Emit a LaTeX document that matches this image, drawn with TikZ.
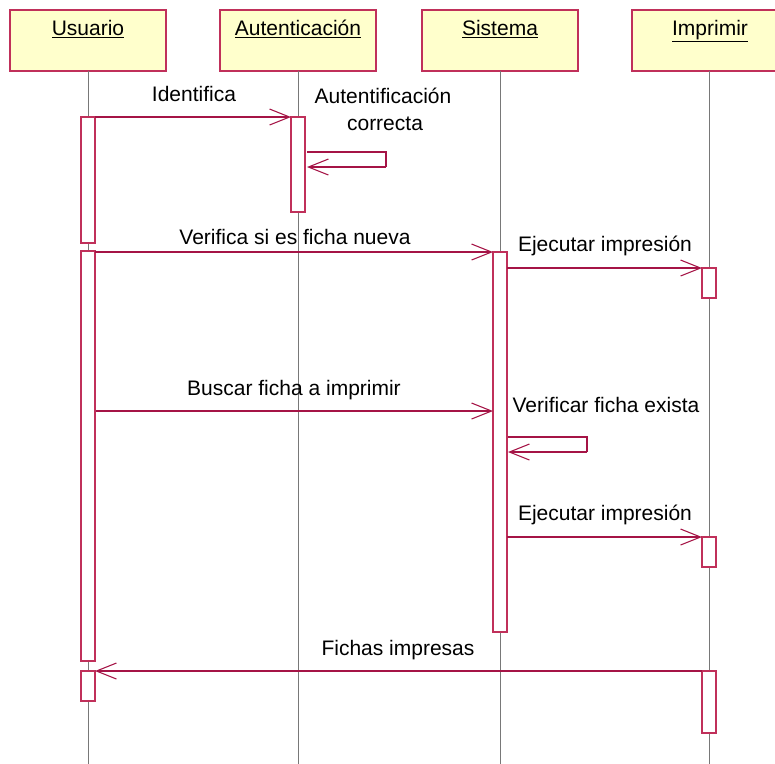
\documentclass[tikz,border=0pt]{standalone}
\usepackage{fontspec}
\setmainfont{Liberation Sans}
\usetikzlibrary{arrows.meta}
\definecolor{umlred}{RGB}{165,20,70}
\definecolor{umlbox}{RGB}{192,48,90}
\definecolor{umlfill}{RGB}{255,255,204}
\definecolor{lifegray}{RGB}{120,120,120}
\begin{document}
\begin{tikzpicture}[x=0.75pt,y=-0.75pt,
  every node/.style={font=\fontsize{15.75pt}{19pt}\selectfont},
  hdr/.style={draw=umlbox,fill=umlfill,line width=0.9pt,minimum width=117pt,minimum height=45.75pt,inner sep=0pt,outer sep=0pt},
  htext/.style={anchor=base,inner sep=0pt},
  actbox/.style={draw=umlbox,fill=white,line width=0.9pt,minimum width=10.5pt,inner sep=0pt,outer sep=0pt},
  life/.style={draw=lifegray,line width=0.5pt},
  msg/.style={draw=umlred,line width=0.8pt,-{Straight Barb[length=15pt,width=12pt,line width=0.8pt]}},
  selfline/.style={draw=umlred,line width=0.8pt},
  lbl/.style={anchor=base,inner sep=0pt,align=center}]
\useasboundingbox (0,0) rectangle (775,764);
% headers
\node[hdr] (hu) at (88,40.5) {};
\node[hdr] (ha) at (298,40.5) {};
\node[hdr] (hs) at (500,40.5) {};
\node[hdr] (hi) at (710,40.5) {};
\node[htext] (tu) at (88,35) {\underline{Usuario}};
\node[htext] (ta) at (298,35) {\underline{Autenticación}};
\node[htext] (ts) at (500,35) {\underline{Sistema}};
\node[htext] (ti) at (710,35) {\underline{Imprimir}};
% lifelines
\coordinate (eu) at (88,764);
\coordinate (ea) at (298,764);
\coordinate (es) at (500,764);
\coordinate (ei) at (709,764);
\draw[life] (88,71) -- (eu);
\draw[life] (298,71) -- (ea);
\draw[life] (500,71) -- (es);
\draw[life] (709,71) -- (ei);
% activations
\node[actbox,minimum height=94.5pt] (u1) at (88,180) {};
\node[actbox,minimum height=307.5pt] (u2) at (88,456) {};
\node[actbox,minimum height=22.5pt] (u3) at (88,686) {};
\node[actbox,minimum height=71.25pt] (a1) at (298,164.5) {};
\node[actbox,minimum height=285pt] (s1) at (500,442) {};
\node[actbox,minimum height=22.5pt] (i1) at (709,283) {};
\node[actbox,minimum height=22.5pt] (i2) at (709,552) {};
\node[actbox,minimum height=46.5pt] (i3) at (709,702) {};
% messages
\draw[msg] (u1.north east) -- (a1.north west);
\node[lbl] (l1) at (194,101) {Identifica};
\coordinate (c1a) at (307,152);
\coordinate (c1b) at (386,152);
\coordinate (c1c) at (386,167);
\coordinate (c1d) at (307,167);
\draw[selfline] (c1a) -- (c1b) -- (c1c);
\draw[msg] (c1c) -- (c1d);
\node[lbl] (l2) at (383,103) {Autentificación};
\node[lbl] (l2b) at (385,130) {correcta};
\draw[msg] (u2.east |- s1.north) -- (s1.north west);
\node[lbl] (l3) at (295,244) {Verifica si es ficha nueva};
\draw[msg] (s1.east |- i1.north) -- (i1.north west);
\node[lbl] (l4) at (605,251) {Ejecutar impresión};
\coordinate (b1) at (96,411);
\coordinate (b2) at (493,411);
\draw[msg] (b1) -- (b2);
\node[lbl] (l5) at (294,395) {Buscar ficha a imprimir};
\coordinate (c2a) at (508,437);
\coordinate (c2b) at (587,437);
\coordinate (c2c) at (587,452);
\coordinate (c2d) at (508,452);
\draw[selfline] (c2a) -- (c2b) -- (c2c);
\draw[msg] (c2c) -- (c2d);
\node[lbl] (l6) at (606,412) {Verificar ficha exista};
\draw[msg] (s1.east |- i2.north) -- (i2.north west);
\node[lbl] (l7) at (605,520) {Ejecutar impresión};
\draw[msg] (i3.north west) -- (u3.north east);
\node[lbl] (l8) at (398,655) {Fichas impresas};
\end{tikzpicture}
\end{document}
